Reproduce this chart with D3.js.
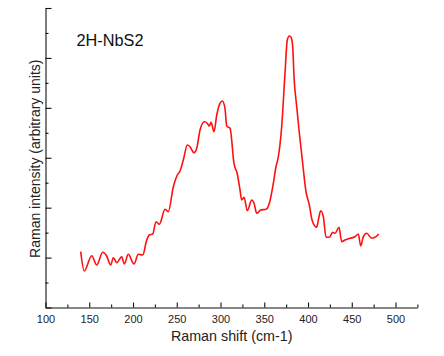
<!DOCTYPE html>
<html>
<head>
<meta charset="utf-8">
<script src="https://cdn.jsdelivr.net/npm/d3@7"></script>
<style>
  html, body { margin: 0; padding: 0; background: #fff; }
  svg { display: block; font-family: "Liberation Sans", Arial, sans-serif; }
</style>
</head>
<body>
<svg id="chart" width="444" height="356"></svg>
<script>
// Raman shift (cm-1)
const shift = [140.2,144.3,152.8,158.5,165.4,169.9,174.5,177.5,181.4,187.1,190.1,194.6,201.1,206.1,211.1,215.7,218.6,222.5,226.3,230.1,236.6,240.3,246.1,250.6,253.7,257.5,262.1,265.1,269.7,272.8,276.6,281.5,284.9,287.2,289.1,292.6,295.7,299.4,302.1,305.1,307.1,310.9,315.4,319.2,322.3,324.2,326.9,330.6,335.7,338.3,341.4,345.9,352.0,355.8,359.7,363.4,366.1,369.9,373.7,376.3,378.6,380.6,382.5,384.0,387.1,390.1,393.5,397.7,401.5,404.6,409.9,411.8,414.5,417.5,420.6,424.3,428.2,430.9,435.4,438.5,442.3,448.0,453.7,457.5,460.2,463.2,467.1,472.8,477.7,480.8];
// Raman intensity (arbitrary units)
const intensity = [1.118,0.731,1.038,0.851,1.106,1.032,0.851,0.998,0.897,1.018,0.871,1.066,0.871,1.066,1.052,1.352,1.452,1.472,1.719,1.667,1.967,1.919,2.420,2.654,2.734,2.955,3.255,3.221,3.101,3.189,3.556,3.722,3.690,3.636,3.710,3.522,3.856,4.091,4.137,3.990,3.636,3.590,2.889,2.674,2.354,2.153,2.208,1.939,2.153,2.087,1.887,1.953,1.967,2.087,2.420,2.820,3.021,3.622,4.692,5.359,5.439,5.413,5.224,4.623,4.022,3.490,2.955,2.320,2.053,1.753,1.607,1.753,1.939,1.819,1.406,1.406,1.506,1.486,1.607,1.318,1.352,1.386,1.418,1.472,1.232,1.418,1.486,1.386,1.418,1.472];
const xMajorTicks = [100,150,200,250,300,350,400,450,500];
const xMinorTicks = [125,175,225,275,325,375,425,475,525];
const yMajorTicks = [0,1,2,3,4,5,6];
const yMinorTicks = [0.5,1.5,2.5,3.5,4.5,5.5];
const sampleLabel = "2H-NbS2";
const xTitle = "Raman shift (cm-1)";
const yTitle = "Raman intensity (arbitrary units)";

const svg = d3.select("#chart");
const x = d3.scaleLinear().domain([100, 525]).range([45.5, 417.4]);
const y = d3.scaleLinear().domain([0, 6]).range([307.5, 8]);

const data = shift.map((s, i) => ({s, v: intensity[i]}));

// x axis
const gx = svg.append("g").attr("transform", `translate(0,${y(0)})`);
gx.call(d3.axisBottom(x).tickValues(xMinorTicks).tickSize(-3).tickSizeOuter(0).tickFormat(""));
gx.append("g").call(d3.axisBottom(x).tickValues(xMajorTicks).tickSize(-5).tickSizeOuter(0).tickPadding(8).tickFormat(d3.format("d")));
gx.selectAll("g > g > .domain").remove();
gx.selectAll("text").attr("font-size", 11).attr("fill", "#222").attr("font-family", "Liberation Sans, Arial, sans-serif");

// y axis
const gy = svg.append("g").attr("transform", `translate(${x(100)},0)`);
gy.call(d3.axisLeft(y).tickValues(yMinorTicks).tickSize(-3).tickSizeOuter(0).tickFormat(""));
gy.append("g").call(d3.axisLeft(y).tickValues(yMajorTicks).tickSize(-6).tickSizeOuter(0).tickFormat(""));
gy.selectAll("g > g > .domain").remove();

svg.selectAll(".domain, .tick line").attr("stroke", "#111").attr("stroke-width", 1.1);

// line
const line = d3.line().x(d => x(d.s)).y(d => y(d.v)).curve(d3.curveMonotoneX);
svg.append("path").datum(data)
  .attr("d", line)
  .attr("fill", "none")
  .attr("stroke", "#ff1010")
  .attr("stroke-width", 1.6)
  .attr("stroke-linejoin", "round");

// labels
svg.append("text").attr("x", 76.5).attr("y", 46.3)
  .attr("font-size", 16.3).attr("fill", "#111").text(sampleLabel);

svg.append("text").attr("x", 231.7).attr("y", 340.5).attr("text-anchor", "middle")
  .attr("font-size", 14.3).attr("fill", "#222").text(xTitle);

svg.append("text").attr("transform", "translate(40,158.7) rotate(-90)")
  .attr("text-anchor", "middle")
  .attr("font-size", 14).attr("fill", "#222").text(yTitle);
</script>
</body>
</html>
